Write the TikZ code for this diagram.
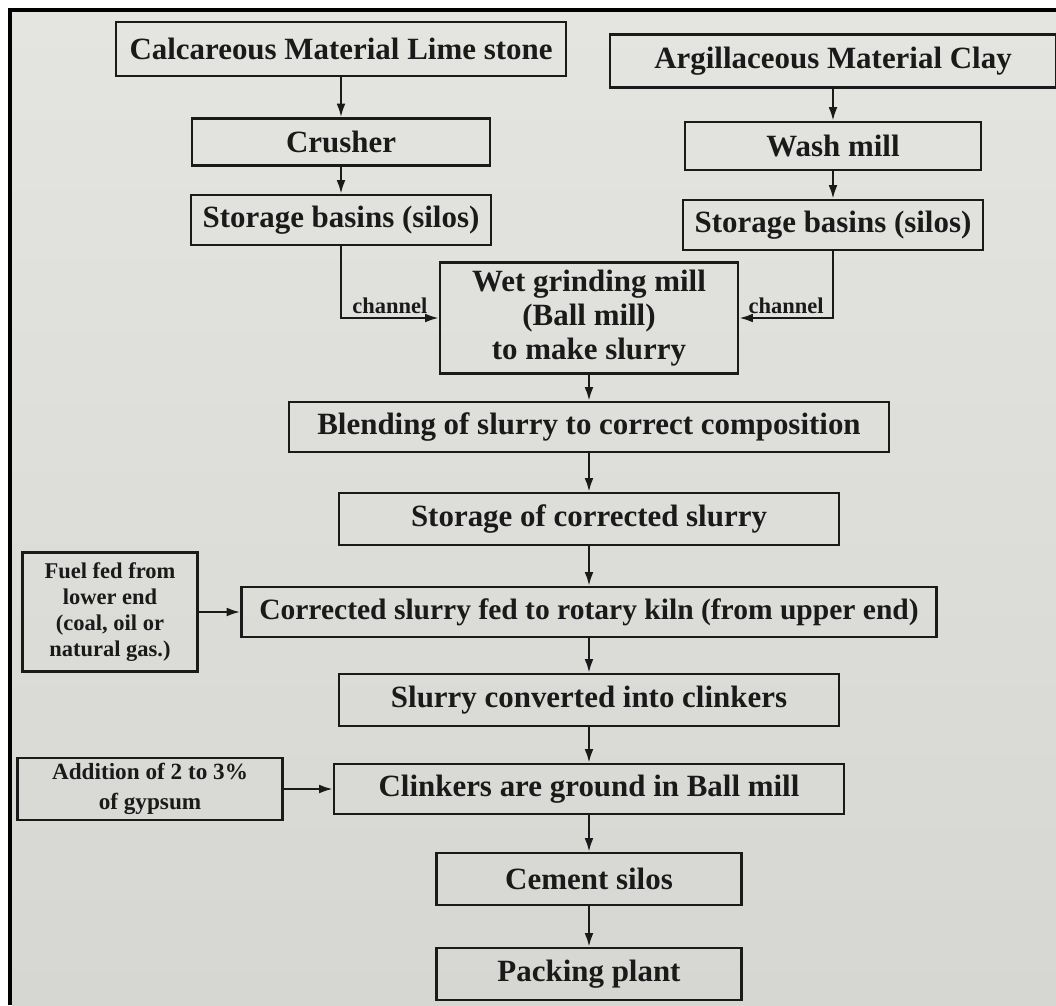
\documentclass[tikz,border=0pt]{standalone}
\usepackage{fontspec}
\setmainfont{Liberation Serif}
\usetikzlibrary{arrows.meta,positioning}
\definecolor{page}{RGB}{228,228,225}
\definecolor{pagedark}{RGB}{214,214,211}
\definecolor{ink}{RGB}{26,26,26}

\begin{document}
\begin{tikzpicture}[
  x=0.025cm, y=-0.025cm,
  font=\fontsize{22}{24}\selectfont\bfseries,
  box/.style={draw=ink, line width=1.7pt, align=center, inner sep=0pt, text=ink},
  sz/.style 2 args={minimum width=#1*0.025cm, minimum height=#2*0.025cm},
  arr/.style={-{Latex[length=3.4mm,width=2.2mm]}, line width=1.6pt, draw=ink},
  lbl/.style={font=\fontsize{16}{18.5}\selectfont\bfseries, text=ink, inner sep=2pt}
]
\useasboundingbox (0,0) rectangle (1056,1005);
\fill[white] (0,0) rectangle (1056,1005);
\shade[top color=page, bottom color=pagedark] (12,12) rectangle (1056,1005);
\draw[black, line width=0.1cm] (10,1005) |- (1056,10);

\node[box, sz={450}{54}] (lime) at (341,49) {Calcareous Material Lime stone};
\node[box, sz={446}{53}] (clay) at (833,61) {Argillaceous Material Clay};
\node[box, sz={298}{47}] (crusher) at (341,142) {Crusher};
\node[box, sz={296}{48}] (wash) at (833,146) {Wash mill};
\node[box, sz={300}{50}] (stoL) at (341,220) {Storage basins (silos)};
\node[box, sz={300}{50}] (stoR) at (833,225) {Storage basins (silos)};
\node[box, sz={298}{111}] (wet) at (589,318) {Wet grinding mill\\(Ball mill)\\to make slurry};
\node[box, sz={600}{50}] (blend) at (589,427) {Blending of slurry to correct composition};
\node[box, sz={500}{52}] (storc) at (589,519) {Storage of corrected slurry};
\node[box, sz={695}{50}, font=\fontsize{21}{24}\selectfont\bfseries] (kiln) at (589,612) {Corrected slurry fed to rotary kiln (from upper end)};
\node[box, lbl, sz={175}{119}] (fuel) at (110,612) {Fuel fed from\\lower end\\(coal, oil or\\natural gas.)};
\node[box, sz={500}{52}] (clink) at (589,700) {Slurry converted into clinkers};
\node[box, sz={510}{50}] (ground) at (589,789) {Clinkers are ground in Ball mill};
\node[box, lbl, sz={265}{62}, font=\fontsize{16.5}{21}\selectfont\bfseries] (gyp) at (150,789) {Addition of 2 to 3\%\\of gypsum};
\node[box, sz={305}{52}] (silos) at (589,879) {Cement silos};
\node[box, sz={305}{52}] (pack) at (589,974) {Packing plant};

\draw[arr] (lime) -- (crusher);
\draw[arr] (crusher) -- (stoL);
\draw[arr] (clay) -- (wash);
\draw[arr] (wash) -- (stoR);
\draw[arr] (stoL.south) |- node[lbl, above, pos=0.75]{channel} (wet.west);
\draw[arr] (stoR.south) |- node[lbl, above, pos=0.75]{channel} (wet.east);
\draw[arr] (wet) -- (blend);
\draw[arr] (blend) -- (storc);
\draw[arr] (storc) -- (kiln);
\draw[arr] (fuel) -- (kiln);
\draw[arr] (kiln) -- (clink);
\draw[arr] (clink) -- (ground);
\draw[arr] (gyp) -- (ground);
\draw[arr] (ground) -- (silos);
\draw[arr] (silos) -- (pack);
\end{tikzpicture}
\end{document}
